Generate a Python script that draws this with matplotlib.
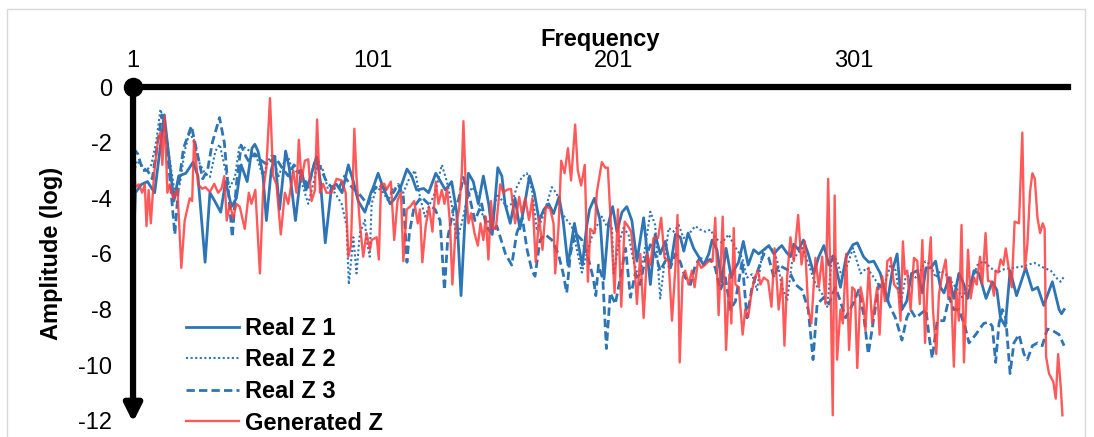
import numpy as np
import matplotlib
matplotlib.use("Agg")
import matplotlib.pyplot as plt
from matplotlib.patches import Rectangle

plt.rcParams["font.family"] = ["Liberation Sans", "DejaVu Sans"]

# =========================
# DATA (frequency, log amplitude)
# =========================

real_z1 = [
    (1, -6.2), (2, -3.8), (4.5, -3.5), (7, -3.4), (10, -3.8), (14, -1.0), (18, -4.1), (20, -3.2),
    (23, -3.1), (26, -2.7), (28, -3.2), (31, -6.3), (33, -3.8), (35, -4.1), (37.5, -4.5), (39.5, -3.4),
    (42, -4.3), (44, -4.0), (46, -2.8), (48.5, -3.4), (50.5, -2.2), (51.7, -2.06), (53, -2.3), (55, -3.1),
    (56.5, -4.8), (58.5, -3.0), (60, -2.5), (62, -4.4), (64.5, -2.3), (66, -2.9), (68.6, -4.8), (71, -3.0),
    (73, -3.7), (75, -3.2), (77.4, -2.5), (79, -3.4), (81, -5.6), (83.6, -3.6), (85.7, -3.5), (88, -3.8),
    (90.6, -2.8), (92.7, -3.4), (94.7, -4.1), (97.5, -4.5), (100, -3.8), (101, -3.6), (103, -3.1), (105, -3.6),
    (108, -4.2), (110, -4.0), (112, -3.7), (115, -2.95), (117, -3.2), (119, -3.7), (122, -3.65), (124, -3.8),
    (127, -3.1), (129, -3.4), (131, -3.7), (133.6, -3.4), (135.7, -4.5), (137.5, -7.5), (139, -5.0), (140.6, -3.1),
    (142.6, -3.4), (144.7, -4.2), (146.8, -3.2), (149, -4.2), (150.5, -5.3), (152.8, -2.9), (154.5, -3.2), (155.8, -4.2),
    (158, -4.9), (160, -4.0), (162, -5.1), (164, -4.2), (166, -3.2), (168, -3.8), (170, -4.8), (172, -4.4),
    (174, -4.2), (176, -4.55), (178.3, -3.95), (180, -4.8), (182, -6.4), (184.7, -4.9), (186.4, -5.7), (188, -6.4),
    (189.8, -5.0), (191, -4.4), (193, -4.0), (195.4, -4.8), (197, -6.9), (198.9, -4.9), (200.6, -4.3), (202.4, -5.2),
    (204.5, -4.5), (206.5, -4.3), (208.6, -4.8), (210.7, -6.26), (213.5, -4.7), (216.3, -7.1), (218.3, -5.3), (220.4, -6.0),
    (222.5, -5.55), (224.6, -6.5), (226.7, -5.3), (228.8, -5.4), (230.2, -5.9), (232, -5.25), (234.3, -5.8), (236.4, -6.1),
    (238.5, -6.4), (240.6, -6.0), (242, -5.5), (244, -5.85), (246, -7.0), (247.8, -5.8), (250, -6.85), (251, -6.6),
    (253, -6.3), (255, -5.55), (257, -6.4), (259.3, -5.85), (261.4, -6.0), (263.5, -5.85), (265.6, -5.7), (267.7, -6.0),
    (269.7, -5.8), (271, -5.7), (273, -5.95), (274.6, -6.1), (276, -5.65), (278, -5.85), (280, -5.5), (282, -6.0),
    (284.3, -6.7), (286.4, -6.1), (288.5, -5.7), (290.6, -6.4), (292.6, -6.1), (295.4, -7.2), (297.8, -6.1), (300.6, -5.67),
    (302.4, -5.6), (305, -6.1), (307.2, -6.3), (309.3, -6.26), (312, -6.7), (315, -7.7), (317, -6.6), (319, -6.0),
    (321, -8.0), (323, -7.7), (325, -6.7), (327.4, -6.6), (329.5, -7.4), (331, -6.5), (333, -6.5), (335, -6.26),
    (337, -7.2), (338.5, -7.4), (340.6, -6.85), (342.6, -7.6), (344.7, -6.7), (346.8, -7.1), (348.3, -7.6), (351, -6.6),
    (353, -6.7), (356, -7.6), (358.6, -7.0), (360.5, -7.3), (362, -8.3), (364, -8.6), (366, -6.6), (368.7, -7.5),
    (372.5, -6.5), (375.3, -7.3), (377.5, -7.2), (380, -7.85), (383.6, -7.0), (386.4, -8.0), (387.4, -8.15), (388.5, -8.0),
]

real_z2 = [
    (1, -3.4), (2.4, -2.65), (4.5, -2.8), (6.6, -3.0), (8.6, -2.8), (10.7, -1.94), (12.4, -0.8), (14.2, -1.35),
    (16.3, -2.65), (18.4, -3.8), (20.5, -3.48), (22.5, -2.3), (24.6, -1.6), (26.7, -2.06), (28.8, -2.77), (30.9, -3.1),
    (33, -3.24), (35.3, -2.3), (37.1, -2.06), (39.2, -2.9), (41.3, -3.6), (43.4, -3.24), (45.4, -2.06), (47.5, -2.18),
    (49.6, -2.3), (51, -2.4), (53, -2.65), (55.1, -3.24), (57.2, -2.65), (59.3, -2.4), (61.4, -3.24), (63.5, -2.77),
    (65.6, -2.53), (67.7, -3.1), (69.7, -3.0), (71.8, -3.6), (73.9, -4.2), (76, -3.48), (78, -2.65), (80.1, -3.0),
    (82.2, -3.7), (85, -3.8), (87.8, -4.2), (89.9, -5.0), (90.8, -7.1), (92.7, -5.4), (94, -6.7), (95.4, -5.25),
    (97.5, -4.78), (98.2, -5.5), (99.5, -6.1), (100.3, -4.2), (102.4, -3.6), (105.2, -3.8), (107.2, -4.1), (109.3, -3.6),
    (111.4, -3.7), (113.5, -3.8), (115.6, -3.36), (118.3, -3.0), (120.4, -3.95), (122.5, -4.66), (124.6, -4.2), (126.7, -3.8),
    (129.5, -2.8), (131.5, -3.36), (133.6, -4.2), (135.7, -5.5), (137.8, -4.9), (139.9, -4.07), (142, -3.6), (144, -3.8),
    (146.1, -4.54), (148.2, -4.78), (150.3, -5.0), (152.4, -3.84), (154.5, -4.07), (156.5, -4.3), (158.6, -4.2), (160.7, -3.6),
    (162.8, -3.24), (164.9, -3.1), (167, -3.7), (169, -5.1), (171.1, -4.78), (173.2, -4.2), (175.3, -3.6), (177.4, -3.84),
    (179.5, -4.54), (181.5, -4.78), (183.6, -5.0), (185.7, -5.85), (187.8, -6.67), (189.9, -5.96), (192, -5.37), (194, -5.0),
    (196.1, -4.66), (198.2, -5.0), (200.3, -5.0), (201, -6.7), (203, -5.67), (205.1, -5.07), (207.2, -5.3), (209.3, -6.26),
    (211.4, -6.85), (213.5, -6.14), (216.3, -4.48), (218.3, -4.96), (220.4, -7.6), (221.8, -6.6), (223.9, -5.07), (226, -5.2),
    (228.1, -4.96), (230.1, -5.43), (232.2, -5.3), (235, -5.0), (237.1, -5.13), (239.2, -5.2), (241.3, -5.13), (243.3, -5.43),
    (246.1, -5.6), (248.9, -5.3), (251, -5.67), (254.5, -6.14), (256.5, -6.85), (258.6, -6.73), (260.7, -7.3), (262.8, -6.0),
    (264.9, -5.73), (267, -5.84), (269, -6.2), (271.1, -7.2), (273.2, -7.68), (275.3, -6.26), (277.4, -6.0), (279.5, -5.79),
    (282.2, -6.38), (285, -7.09), (287.8, -7.44), (289.9, -7.9), (292, -6.0), (294, -6.26), (296.1, -6.85), (298.9, -6.26),
    (300.6, -5.79), (303.8, -6.7), (306.5, -6.5), (309.3, -6.85), (312.1, -7.2), (314.2, -6.97), (316.3, -6.38), (318.4, -6.6),
    (320.4, -7.8), (322.5, -6.85), (324.6, -6.73), (326.7, -6.85), (328.8, -6.6), (330.8, -6.26), (332.9, -6.38), (335, -6.85),
    (337.1, -6.6), (339.2, -6.73), (341.3, -6.97), (343.4, -7.2), (346.1, -7.56), (348.2, -7.2), (349.6, -7.1), (352.4, -6.4),
    (355.1, -6.26), (357.9, -6.5), (360.7, -6.67), (363.5, -6.55), (367.6, -6.5), (371.8, -6.44), (376, -6.32), (380.1, -6.5),
    (382.9, -6.6), (385.7, -6.9), (387.1, -7.0), (388.5, -6.8),
]

real_z3 = [
    (1, -2.2), (3, -2.4), (5, -3.0), (7, -3.0), (9, -3.3), (13, -1.0), (15, -2.0), (18.4, -5.3),
    (20, -3.5), (22, -2.2), (25.3, -1.4), (28, -2.5), (30, -3.3), (32, -3.0), (34, -2.0), (37, -1.1),
    (39, -2.0), (42.3, -5.4), (44, -3.5), (46, -2.1), (48, -2.5), (49, -2.65), (51.7, -2.4), (54.5, -2.65),
    (57, -2.8), (60, -2.5), (63, -2.9), (65.6, -3.2), (68, -2.8), (71, -3.1), (74, -3.6), (76.7, -2.65),
    (79, -2.9), (81.5, -3.4), (83.6, -3.6), (86.4, -3.7), (89, -3.2), (92, -3.6), (94.7, -3.8), (97.5, -4.1),
    (99, -4.2), (100.3, -3.8), (103, -3.5), (106.5, -3.7), (109.3, -3.8), (111.4, -3.5), (113.5, -3.95), (115, -6.3),
    (116, -5.25), (118, -4.3), (121, -3.95), (123.9, -4.2), (126.7, -4.4), (128.8, -4.8), (130.6, -7.3), (132, -5.4),
    (134.3, -4.4), (136.4, -4.07), (138.5, -3.25), (140.6, -3.8), (143.3, -4.8), (146.1, -4.2), (148, -5.0), (150, -5.25),
    (152.4, -5.0), (156, -6.0), (158.6, -6.4), (160.7, -5.25), (163, -4.7), (165, -5.85), (167, -6.6), (168.3, -6.8),
    (170.4, -5.5), (172.5, -5.3), (175.3, -5.5), (178, -6.0), (180, -6.7), (181.5, -7.4), (183, -6.0), (185, -5.25),
    (187.8, -5.5), (190.6, -6.2), (192.6, -6.9), (193.6, -7.5), (194.7, -6.4), (196.5, -6.9), (198, -9.4), (199.6, -7.4),
    (201.7, -7.8), (203.8, -6.85), (206, -5.8), (208, -7.56), (210, -6.7), (212, -7.1), (214, -6.26), (216.3, -5.67),
    (218.3, -6.0), (220.4, -6.6), (222.5, -6.26), (224.6, -6.5), (226.7, -6.0), (228.8, -6.3), (230.8, -6.85), (233, -7.1),
    (235, -6.4), (237, -6.15), (239.2, -6.26), (241.3, -6.2), (243.3, -6.5), (245.4, -7.3), (247.5, -6.85), (249.6, -8.0),
    (251.7, -7.7), (254.5, -6.26), (256.5, -8.3), (258.6, -7.2), (261.4, -6.5), (263.5, -6.0), (265.6, -6.15), (267.7, -6.85),
    (269.7, -6.4), (271.8, -6.5), (274, -6.6), (276.7, -7.1), (279.5, -7.3), (282, -8.0), (284, -9.8), (285.7, -7.8),
    (288.5, -7.56), (290.6, -7.8), (293.3, -7.2), (295.4, -7.7), (297.5, -8.3), (300.6, -7.8), (303, -7.3), (305, -8.15),
    (307, -9.6), (309.3, -8.3), (311.4, -7.1), (313.5, -7.2), (315.6, -7.8), (318.3, -8.3), (321, -9.1), (323, -8.3),
    (324.6, -8.0), (326.7, -8.3), (328.8, -8.15), (331, -8.0), (332.2, -8.9), (333.6, -9.75), (335.7, -8.4), (338.5, -8.4),
    (340.6, -7.56), (342.6, -8.0), (344.7, -8.0), (347.2, -8.6), (348.9, -9.2), (351.7, -8.9), (355, -8.5), (357.2, -8.45),
    (358.6, -8.6), (360, -9.9), (361.4, -8.5), (362.8, -8.0), (364.2, -8.3), (366, -10.3), (367.6, -9.2), (369.7, -8.9),
    (371.8, -9.6), (373.2, -9.8), (375.3, -9.3), (377.4, -9.2), (379.4, -9.3), (381.5, -8.7), (383.6, -8.75), (386.4, -8.9),
    (388.5, -9.3),
]

generated_z = [
    (1, -2.3), (2, -3.6), (3.4, -3.5), (4.8, -3.8), (5.9, -3.5), (6.6, -5.0), (7.5, -3.7), (8.4, -4.9),
    (9.8, -3.1), (11.4, -1.9), (12.5, -1.6), (13.2, -2.8), (14.2, -1.05), (15.3, -3.8), (16.3, -3.5), (17.7, -4.0),
    (19.5, -3.7), (21.1, -6.5), (22.5, -4.8), (24.6, -4.0), (25.6, -4.1), (26.4, -1.9), (28.1, -3.5), (29.8, -3.66),
    (31.1, -3.6), (33, -3.77), (34.8, -3.48), (36.4, -3.8), (37.8, -3.66), (39, -3.2), (40, -4.8), (41.3, -4.2),
    (42.7, -4.72), (44, -4.2), (45.4, -4.3), (47.5, -5.1), (49.2, -3.8), (50.3, -4.2), (51.9, -3.7), (53.8, -6.7),
    (55.1, -3.8), (56.5, -2.9), (58, -0.4), (59.3, -3.2), (60.7, -3.5), (62.5, -5.3), (64.2, -3.8), (65.6, -4.2),
    (67.7, -3.0), (69, -3.8), (70, -1.9), (71.1, -3.36), (72.5, -2.65), (73.9, -2.6), (75.3, -4.1), (76.7, -3.7),
    (77.6, -1.17), (78.8, -3.8), (80.1, -3.48), (81.5, -3.8), (83.6, -3.8), (85.7, -3.3), (87.8, -3.36), (89.5, -3.8),
    (90.6, -6.1), (91.7, -5.7), (93.1, -1.5), (94, -3.24), (95.4, -4.9), (96.8, -6.1), (98.2, -5.25), (99.6, -5.85),
    (100.3, -5.5), (102.4, -5.4), (103.3, -6.2), (104.2, -3.5), (105.6, -3.48), (106.5, -3.7), (108.3, -3.4), (109.7, -5.5),
    (111.1, -4.07), (112.5, -3.8), (113.5, -6.26), (114.9, -4.4), (116.3, -4.3), (118, -4.1), (119.5, -4.9), (120.4, -4.4),
    (121.4, -6.3), (122.8, -5.0), (124.2, -4.3), (125.6, -5.2), (127, -3.4), (128.1, -4.2), (129.5, -3.7), (130.6, -4.2),
    (131.7, -3.66), (132.9, -4.9), (133.9, -7.1), (135.3, -5.0), (136.7, -4.4), (137.8, -3.12), (138.5, -1.23), (139.5, -3.6),
    (140.6, -4.9), (141.7, -4.54), (143.1, -5.25), (144.5, -5.7), (145.6, -4.9), (146.8, -5.5), (147.8, -4.66), (148.9, -6.2),
    (150, -4.1), (150.9, -5.1), (152, -5.1), (153.8, -3.5), (155.1, -3.8), (156.5, -3.7), (158.3, -3.66), (160, -4.9),
    (161.7, -3.95), (162.8, -4.54), (164.2, -4.0), (165.8, -4.78), (167.2, -4.0), (168.6, -6.3), (170, -4.66), (171.4, -5.85),
    (172.8, -4.3), (174.6, -4.37), (176, -4.9), (176.7, -6.7), (178.1, -5.0), (179.2, -2.65), (180.6, -3.1), (182, -2.2),
    (183.3, -3.36), (185, -1.35), (186.1, -3.0), (187.5, -3.54), (189, -2.8), (190.3, -7.0), (191.3, -5.1), (193.1, -5.25),
    (194, -3.8), (196.1, -2.7), (197.5, -2.9), (198.6, -2.9), (199.8, -4.8), (201.4, -7.4), (202.8, -4.4), (204.2, -7.9),
    (205.6, -4.84), (207, -5.0), (208.3, -5.2), (209.7, -6.4), (210.7, -7.8), (212.1, -6.0), (213.5, -8.3), (214.9, -6.0),
    (216.3, -6.4), (217.6, -5.43), (219.5, -5.43), (220.8, -4.7), (222.2, -6.14), (223.9, -6.26), (225.3, -8.4), (226.7, -6.5),
    (227.6, -4.6), (228.5, -9.9), (229.7, -6.85), (230.8, -6.6), (232.2, -7.1), (233.6, -6.6), (234.7, -7.2), (236.1, -6.26),
    (237.5, -6.5), (239.2, -6.38), (240.6, -6.26), (242.2, -6.26), (243.3, -4.7), (244.7, -8.2), (246.4, -4.66), (247.8, -9.45),
    (249.2, -6.73), (250, -8.5), (251, -5.07), (251.7, -7.1), (253.1, -7.2), (254.7, -8.9), (255.8, -8.0), (257, -8.27),
    (258.3, -7.44), (259.7, -6.85), (261.1, -6.6), (262.1, -7.1), (263.5, -6.85), (265.3, -6.97), (266.7, -7.9), (268, -5.8),
    (269.7, -8.0), (271.1, -6.85), (272.1, -9.3), (273.2, -6.85), (274.6, -5.4), (276, -6.26), (277.8, -4.6), (279.2, -6.38),
    (280.6, -5.55), (282, -8.0), (283.3, -8.5), (285, -6.14), (286.4, -7.2), (287.8, -6.1), (289.2, -7.8), (290.3, -3.3),
    (291.3, -7.2), (292.2, -11.8), (293, -3.9), (294, -9.8), (295.4, -8.0), (296.4, -8.5), (297.8, -6.0), (299, -9.45),
    (300.3, -7.2), (301.4, -7.3), (302.4, -10.1), (303.8, -7.2), (305.1, -7.8), (305.8, -8.75), (307.2, -6.5), (308.6, -8.5),
    (309.7, -7.8), (310.7, -7.2), (311.7, -8.9), (312.8, -6.8), (313.9, -7.7), (314.9, -6.26), (316.3, -6.14), (317.7, -7.1),
    (319.5, -7.3), (320.4, -8.4), (321.4, -5.55), (322.2, -6.73), (323.2, -6.6), (324.6, -8.0), (326, -6.14), (327.4, -6.26),
    (328.4, -7.8), (329.5, -5.5), (330.6, -9.2), (332, -6.5), (333, -5.4), (333.9, -8.0), (335.3, -9.6), (336.4, -7.44),
    (337.8, -6.73), (339.2, -6.2), (340.3, -7.56), (341.3, -6.85), (342.6, -10.05), (343.6, -7.3), (344.7, -8.4), (345.8, -4.96),
    (346.8, -9.9), (348.5, -5.85), (349.6, -7.6), (351, -6.85), (352.1, -7.1), (353.5, -6.1), (354.4, -7.1), (355.8, -5.25),
    (356.8, -6.97), (358.2, -7.0), (359.3, -7.5), (360, -6.6), (361, -6.67), (362.1, -6.2), (363.2, -6.4), (364.2, -5.8),
    (365.6, -6.6), (366.7, -7.2), (367.9, -4.84), (369.7, -4.9), (371.1, -1.64), (372.1, -6.55), (373.2, -5.67), (374.3, -3.77),
    (375.3, -3.1), (376.3, -3.3), (377.4, -4.7), (378.5, -5.25), (379.6, -4.9), (380.4, -5.1), (381, -9.7), (382.2, -10.3),
    (384, -10.6), (385, -11.2), (386, -9.6), (387.1, -10.8), (387.8, -11.8),
]

x_ticks = [1, 101, 201, 301]
y_ticks = [0, -2, -4, -6, -8, -10, -12]

# =========================
# PLOT
# =========================

blue = "#2E75B6"
red = "#FF3C3C"

fig = plt.figure(figsize=(10.94, 4.37), dpi=100)
fig.patches.append(Rectangle((0.006, -0.05), 0.986, 1.03, transform=fig.transFigure,
                             fill=False, edgecolor="#D9D9D9", linewidth=1))
ax = fig.add_axes([0.1216, 0.037, 0.8544, 0.7639])

f1, a1 = np.array(real_z1).T
f2, a2 = np.array(real_z2).T
f3, a3 = np.array(real_z3).T
fg, ag = np.array(generated_z).T

ax.plot(f1, a1, color=blue, lw=2.0, label="Real Z 1")
ax.plot(f2, a2, color=blue, lw=1.5, ls=(0, (1, 1.2)), label="Real Z 2")
ax.plot(f3, a3, color=blue, lw=2.0, ls=(0, (3, 1.5)), label="Real Z 3")
ax.plot(fg, ag, color=red, lw=1.7, alpha=0.85, label="Generated Z")

ax.set_xlim(1, 390)
ax.set_ylim(-12, 0)

for side in ["right", "bottom", "left"]:
    ax.spines[side].set_visible(False)
ax.spines["top"].set_linewidth(4.5)

# y axis drawn as a downward arrow
ax.annotate("", xy=(1, -12.05), xytext=(1, 0),
            arrowprops=dict(arrowstyle="-|>", lw=4.5, color="black",
                            mutation_scale=26, shrinkA=0, shrinkB=0),
            annotation_clip=False)
ax.plot([1], [0], "o", color="black", markersize=13, clip_on=False, zorder=5)

ax.xaxis.tick_top()
ax.xaxis.set_label_position("top")
ax.set_xticks(x_ticks)
ax.set_yticks(y_ticks)
ax.set_yticklabels([str(v) for v in y_ticks])
ax.tick_params(axis="x", length=0, pad=11, labelsize=17)
ax.tick_params(axis="y", length=0, pad=15, labelsize=17)

ax.set_xlabel("Frequency", fontsize=17, fontweight="bold", labelpad=3)
ax.set_ylabel("Amplitude (log)", fontsize=17, fontweight="bold", labelpad=11)

ax.legend(loc="upper left", bbox_to_anchor=(186 / 1094, 1 - 317 / 437),
          bbox_transform=fig.transFigure, frameon=False,
          prop={"size": 17, "weight": "bold"}, handlelength=2.25,
          handletextpad=0.25, labelspacing=0.36, borderpad=0, borderaxespad=0)

fig.savefig("out.png", dpi=100)
